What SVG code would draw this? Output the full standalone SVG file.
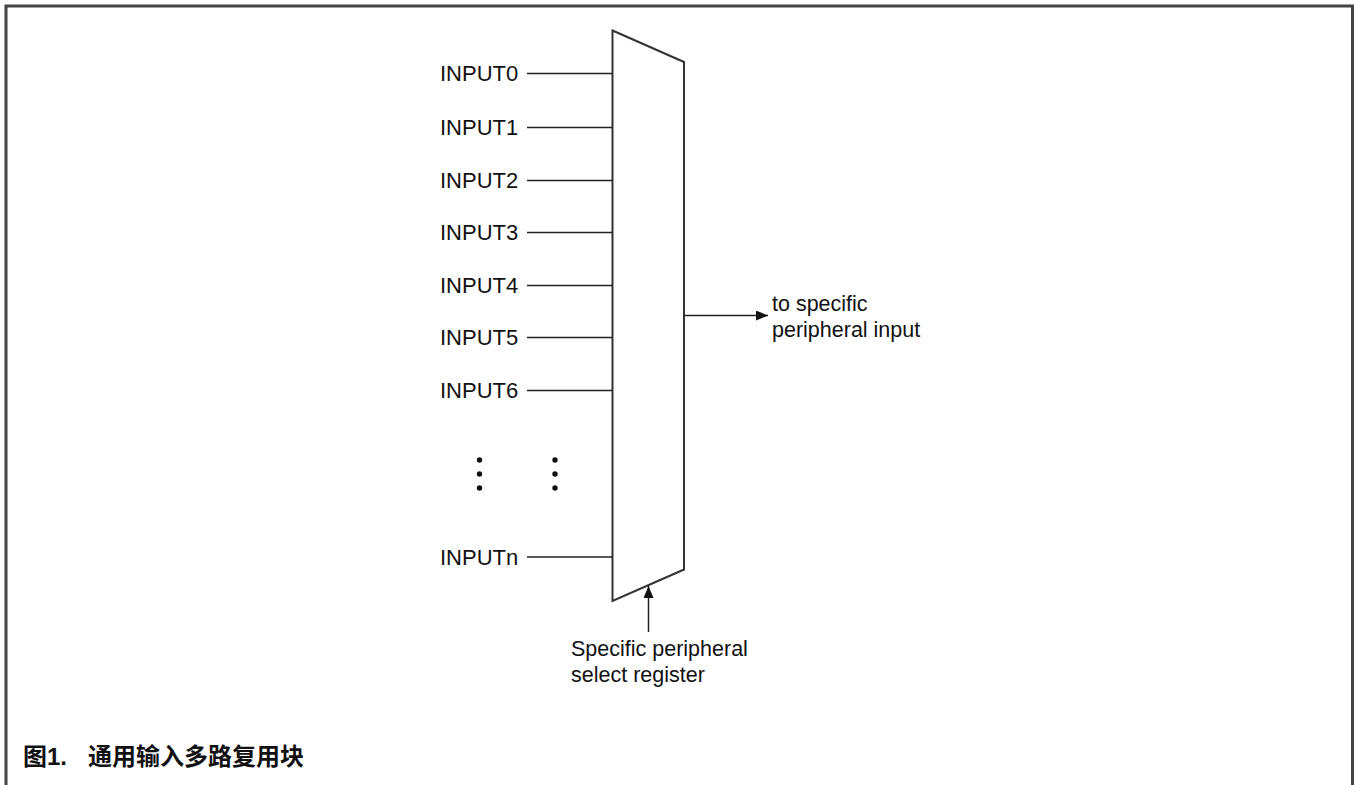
<svg xmlns="http://www.w3.org/2000/svg" width="1354" height="785" viewBox="0 0 1354 785">
  <style>
    .lbl { font-family: "Liberation Sans", Arial, sans-serif; font-size: 21.5px; fill: #111; }
    .in { font-size: 22px; }
    .wire { stroke: #222; stroke-width: 1.5; fill: none; }
    .dot { fill: #111; }
    .cap { font-family: "Liberation Sans", "Noto Sans CJK SC", sans-serif; font-size: 24px; font-weight: bold; fill: #111; }
  </style>
  <defs>
    <marker id="arrow" viewBox="0 0 12 10" refX="12" refY="5" markerWidth="12" markerHeight="10" markerUnits="userSpaceOnUse" orient="auto">
      <path d="M0,0 L12,5 L0,10 z" fill="#111"/>
    </marker>
  </defs>

  <rect width="1354" height="785" fill="#fff"/>
  <!-- frame: open at the bottom -->
  <path d="M6,785 V6 H1352.5 V785" fill="none" stroke="#444" stroke-width="3"/>

  <!-- multiplexer body -->
  <g id="mux">
    <polygon points="612.5,30.5 684,62 684,569.5 612.5,601" fill="#fff" stroke="#333" stroke-width="2"/>
  </g>

  <!-- input labels -->
  <g id="input0"><text class="lbl in" x="440" y="81">INPUT0</text></g>
  <g id="input1"><text class="lbl in" x="440" y="135">INPUT1</text></g>
  <g id="input2"><text class="lbl in" x="440" y="188">INPUT2</text></g>
  <g id="input3"><text class="lbl in" x="440" y="240">INPUT3</text></g>
  <g id="input4"><text class="lbl in" x="440" y="293">INPUT4</text></g>
  <g id="input5"><text class="lbl in" x="440" y="345">INPUT5</text></g>
  <g id="input6"><text class="lbl in" x="440" y="398">INPUT6</text></g>
  <g id="inputn"><text class="lbl in" x="440" y="565">INPUTn</text></g>

  <!-- ellipsis between INPUT6 and INPUTn -->
  <g id="ellipsis">
    <circle class="dot" cx="479.5" cy="460" r="2.7"/>
    <circle class="dot" cx="479.5" cy="474" r="2.7"/>
    <circle class="dot" cx="479.5" cy="488" r="2.7"/>
    <circle class="dot" cx="555" cy="460" r="2.7"/>
    <circle class="dot" cx="555" cy="474" r="2.7"/>
    <circle class="dot" cx="555" cy="488" r="2.7"/>
  </g>

  <g id="output">
    <text class="lbl" x="772" y="311">to specific</text>
    <text class="lbl" x="772" y="337">peripheral input</text>
  </g>

  <g id="select">
    <text class="lbl" x="571" y="656">Specific peripheral</text>
    <text class="lbl" x="571" y="682">select register</text>
  </g>

  <!-- connectors -->
  <g id="connectors">
    <line class="wire" x1="527" y1="73.5" x2="612.5" y2="73.5"/>
    <line class="wire" x1="527" y1="127.5" x2="612.5" y2="127.5"/>
    <line class="wire" x1="527" y1="180.5" x2="612.5" y2="180.5"/>
    <line class="wire" x1="527" y1="232.5" x2="612.5" y2="232.5"/>
    <line class="wire" x1="527" y1="285.5" x2="612.5" y2="285.5"/>
    <line class="wire" x1="527" y1="337.5" x2="612.5" y2="337.5"/>
    <line class="wire" x1="527" y1="390.5" x2="612.5" y2="390.5"/>
    <line class="wire" x1="527" y1="557" x2="612.5" y2="557"/>
    <line class="wire" x1="684" y1="315.5" x2="768" y2="315.5" marker-end="url(#arrow)"/>
    <line class="wire" x1="648.5" y1="632" x2="648.5" y2="586" marker-end="url(#arrow)"/>
  </g>

  <g id="caption">
    <text class="cap" x="23" y="765">图1.</text>
    <text class="cap" x="88" y="765">通用输入多路复用块</text>
  </g>
</svg>
